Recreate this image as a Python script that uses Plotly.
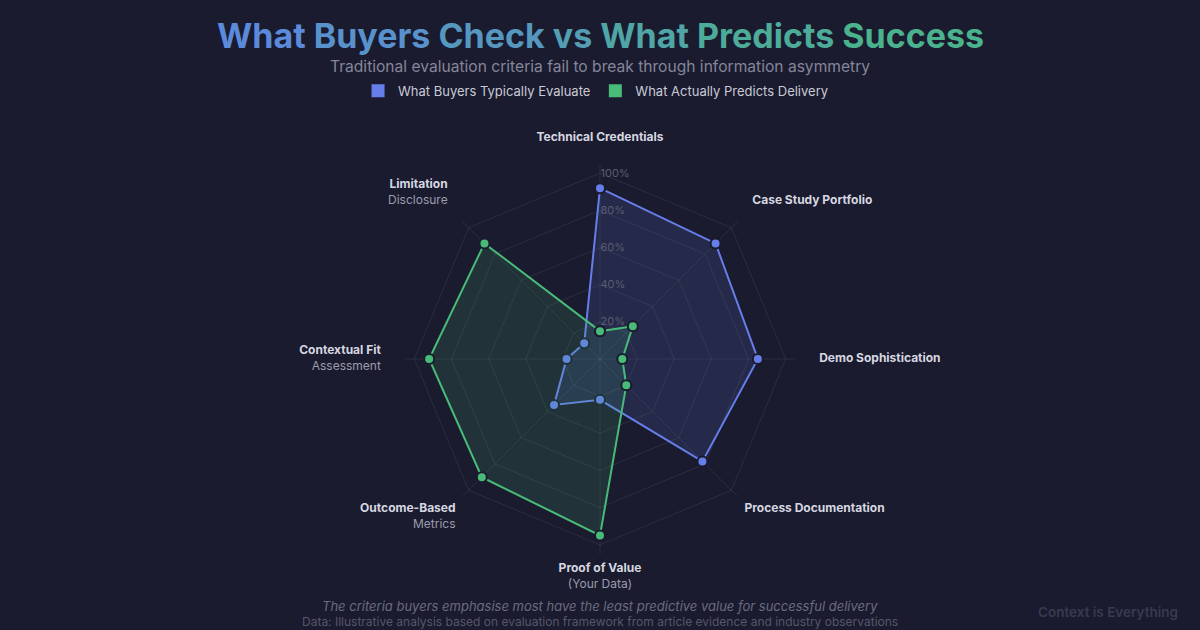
import plotly.graph_objects as go

# criteria around the radar (clockwise from top)
criteria = [
    ("Technical Credentials", ""),
    ("Case Study Portfolio", ""),
    ("Demo Sophistication", ""),
    ("Process Documentation", ""),
    ("Proof of Value", "(Your Data)"),
    ("Outcome-Based", "Metrics"),
    ("Contextual Fit", "Assessment"),
    ("Limitation", "Disclosure"),
]
buyers_evaluate = [92, 88, 85, 78, 22, 35, 18, 12]
predicts_delivery = [15, 25, 12, 20, 95, 90, 92, 88]
radial_ticks = [20, 40, 60, 80, 100]

BG = "#1a1b2e"
BLUE = "#667eea"
GREEN = "#48bb78"
GRID = "rgba(255,255,255,0.08)"
SPOKE_END = 105   # spokes run a little past the 100% ring
R_MAX = 120       # extra room so the point labels fit inside the polar area

cats = [c[0] for c in criteria]
labels = []
for main, sub in criteria:
    t = "<b>" + main + "</b>"
    if sub:
        t += "<br><span style='color:#9a9bab'>" + sub + "</span>"
    labels.append(t)

fig = go.Figure()

# spokes
spoke_r, spoke_t = [], []
for c in cats:
    spoke_r += [0, SPOKE_END, None]
    spoke_t += [c, c, c]
fig.add_trace(go.Scatterpolar(
    r=spoke_r, theta=spoke_t, mode="lines", line=dict(color=GRID, width=1),
    showlegend=False, hoverinfo="skip",
))

fig.add_trace(go.Scatterpolar(
    r=buyers_evaluate + buyers_evaluate[:1], theta=cats + cats[:1],
    mode="lines+markers", fill="toself", fillcolor="rgba(102,126,234,0.15)",
    line=dict(color=BLUE, width=2),
    marker=dict(size=10, color=BLUE, line=dict(color=BG, width=2)),
    showlegend=False, hoverinfo="skip",
))
fig.add_trace(go.Scatterpolar(
    r=predicts_delivery + predicts_delivery[:1], theta=cats + cats[:1],
    mode="lines+markers", fill="toself", fillcolor="rgba(72,187,120,0.15)",
    line=dict(color=GREEN, width=2),
    marker=dict(size=10, color=GREEN, line=dict(color=BG, width=2)),
    showlegend=False, hoverinfo="skip",
))

# point labels just outside the grid (upper half sits a bit further out)
label_pos = ["top center", "top right", "middle right", "bottom right",
             "bottom center", "bottom left", "middle left", "top left"]
label_r = [118 if "middle" in p else 116 if "top" in p else 110 for p in label_pos]
fig.add_trace(go.Scatterpolar(
    r=label_r, theta=cats, mode="text", text=labels, textposition=label_pos,
    textfont=dict(size=12, color="#d6d7e0"), cliponaxis=False,
    showlegend=False, hoverinfo="skip",
))

# legend entries (square swatches)
for name, col in [("What Buyers Typically Evaluate", BLUE), ("What Actually Predicts Delivery", GREEN)]:
    fig.add_trace(go.Scatterpolar(
        r=[None], theta=[cats[0]], mode="markers", name=name,
        marker=dict(symbol="square", size=13, color=col),
    ))

# gradient-ish title, one colour per word
words = "What Buyers Check vs What Predicts Success".split()
c0, c1 = (92, 138, 218), (74, 178, 140)
parts = []
for i, w in enumerate(words):
    f = i / (len(words) - 1)
    rgb = tuple(round(a + (b - a) * f) for a, b in zip(c0, c1))
    parts.append("<span style='color:rgb(%d,%d,%d)'>%s</span>" % (rgb + (w,)))
title_text = " ".join(parts)

fig.update_layout(
    width=1200, height=630,
    paper_bgcolor=BG, plot_bgcolor=BG,
    margin=dict(l=0, r=0, t=0, b=0),
    font=dict(family="Inter, Noto Sans, sans-serif", color="#c9cad6"),
    polar=dict(
        bgcolor=BG,
        gridshape="linear",
        domain=dict(x=[0.31429, 0.68571], y=[0.07635, 0.78397]),
        radialaxis=dict(
            range=[0, R_MAX], angle=90, tickangle=90,
            tickvals=radial_ticks, ticktext=[f"{v}%" for v in radial_ticks],
            showline=False, ticks="", gridcolor=GRID, gridwidth=1,
            tickfont=dict(size=11, color="#5c5d72"),
        ),
        angularaxis=dict(
            direction="clockwise", rotation=90,
            tickvals=cats, showticklabels=False,
            showline=False, showgrid=False, ticks="",
        ),
    ),
    legend=dict(
        orientation="h", x=0.4967, xanchor="center", y=0.856, yanchor="middle",
        font=dict(size=13, color="#c9cad6"), bgcolor="rgba(0,0,0,0)",
        itemwidth=30,
    ),
    annotations=[
        dict(text=title_text, x=0.5, y=0.944, xref="paper", yref="paper", yanchor="middle",
             showarrow=False, font=dict(size=34, family="Inter", weight=700)),
        dict(text="Traditional evaluation criteria fail to break through information asymmetry",
             x=0.5, y=0.894, xref="paper", yref="paper", yanchor="middle", showarrow=False,
             font=dict(size=15.6, color="#85869a")),
        dict(text="<i>The criteria buyers emphasise most have the least predictive value for successful delivery</i>",
             x=0.5, y=0.038, xref="paper", yref="paper", yanchor="middle", showarrow=False,
             font=dict(size=13, color="#6a6b80")),
        dict(text="Data: Illustrative analysis based on evaluation framework from article evidence and industry observations",
             x=0.5, y=0.0127, xref="paper", yref="paper", yanchor="middle", showarrow=False,
             font=dict(size=12, color="#56576b")),
        dict(text="Context is Everything", x=0.983, y=0.0286, xref="paper", yref="paper",
             xanchor="right", yanchor="middle", showarrow=False,
             font=dict(size=13.5, color="#383a52", weight=600)),
    ],
)

fig.write_html("out.html", config={"displayModeBar": False},
               post_script="document.body.style.margin='0';")
